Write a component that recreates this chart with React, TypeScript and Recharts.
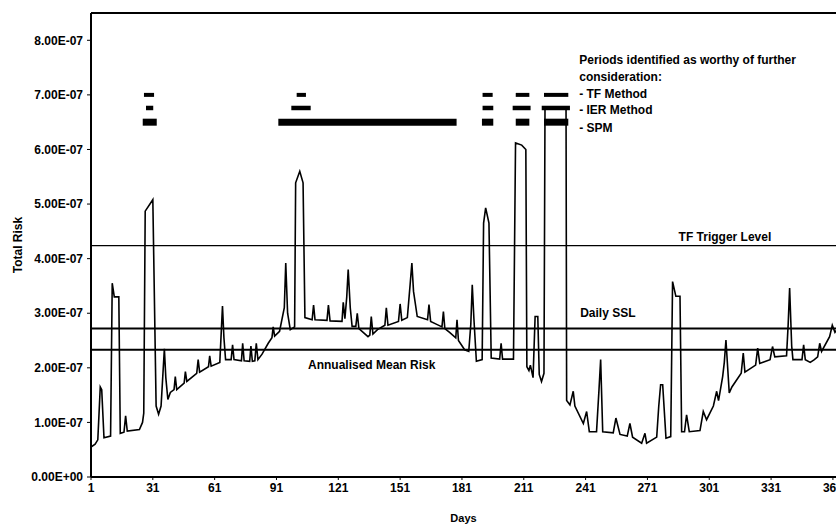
import React from 'react';
import { LineChart, Line, XAxis, YAxis, ReferenceLine, ReferenceDot } from 'recharts';

// Day of year and total risk (in units of 1E-07)
const days = [
  1, 3, 4.3, 5.5, 6.2, 7.3, 10.5, 11.3, 12.3, 14.5, 15.2, 17, 17.8, 18.6, 24.5, 26, 26.6, 27.3, 31, 32.6,
  33.8, 35, 36.6, 37.3, 38.3, 39.5, 41.3, 41.9, 42.6, 46.2, 46.8, 47.5, 52.3, 53, 53.7, 58, 58.6, 59.3, 63.5, 64.8,
  65.5, 66.3, 69, 69.7, 70.4, 74, 74.6, 75.3, 78, 78.6, 79.3, 80.5, 81.2, 82, 84, 87, 88.8, 89.4, 90.1, 92.5,
  94.8, 95.5, 96.4, 97.7, 99.8, 100.3, 102.3, 103.9, 104.8, 108.3, 109, 109.7, 115.5, 116.2, 117, 122.8, 123.4, 124.2, 125.1, 125.8,
  126.8, 127.7, 129.5, 130.2, 131, 135.4, 136.3, 137, 137.8, 140, 143.6, 144.3, 145.1, 150.2, 151, 151.8, 154.5, 155.8, 156.7, 157.5,
  159.3, 164.3, 165, 165.8, 168.5, 171.3, 172, 172.7, 175, 178, 178.6, 179.3, 182.3, 184.3, 185.3, 186, 186.8, 188, 190.8, 191.5,
  192.5, 194.1, 195.2, 199.3, 200, 200.7, 206, 207, 210, 212, 212.5, 213.5, 214.2, 215.5, 216.5, 217.8, 218.5, 219.6, 220.8, 221.3,
  231.5, 231.8, 233.4, 235, 235.8, 239.9, 241.5, 242.8, 246.3, 247.5, 248.3, 249.3, 254.4, 255.7, 257.7, 261.2, 262.5, 263.8, 268.2, 269.8,
  270.6, 275.5, 276.5, 277.4, 278.4, 280, 282.3, 283.2, 284.8, 286.8, 287.6, 289, 290, 291.3, 296.5, 298.1, 299.7, 303, 304.6, 305.5,
  307.5, 308.3, 309.1, 310.7, 312, 316.5, 317.5, 318.3, 323.5, 324.5, 325.5, 330.5, 331.7, 332.8, 338.5, 339.3, 340, 341, 341.6, 346,
  346.8, 347.6, 350, 352, 353.6, 354.6, 355.5, 359.4, 360.7, 362, 365,
];
const riskE7 = [
  0.55, 0.6, 0.68, 1.65, 1.6, 0.72, 0.75, 3.55, 3.3, 3.3, 0.8, 0.82, 1.12, 0.84, 0.87, 1.0, 1.17, 4.87, 5.08, 1.3,
  1.15, 1.3, 2.35, 1.82, 1.42, 1.55, 1.6, 1.84, 1.6, 1.72, 1.93, 1.75, 1.9, 2.15, 1.92, 2.02, 2.22, 2.03, 2.1, 3.13,
  2.55, 2.15, 2.15, 2.42, 2.15, 2.13, 2.45, 2.13, 2.12, 2.4, 2.12, 2.13, 2.45, 2.15, 2.25, 2.45, 2.55, 2.75, 2.58, 2.67,
  3.1, 3.92, 3.0, 2.7, 2.75, 5.39, 5.6, 5.39, 2.92, 2.88, 3.15, 2.88, 2.87, 3.15, 2.86, 2.85, 3.2, 2.9, 3.3, 3.8,
  3.1, 2.76, 2.76, 3.0, 2.72, 2.57, 2.6, 2.94, 2.62, 2.7, 2.78, 3.1, 2.78, 2.85, 3.17, 2.87, 2.92, 3.5, 3.92, 3.4,
  2.94, 2.88, 3.16, 2.85, 2.8, 2.75, 3.03, 2.72, 2.65, 2.55, 2.88, 2.5, 2.33, 2.3, 2.8, 3.52, 2.9, 2.12, 2.15, 4.65,
  4.93, 4.65, 2.18, 2.16, 2.45, 2.16, 2.16, 6.12, 6.08, 6.0, 2.02, 1.95, 2.05, 1.82, 2.94, 2.94, 1.88, 1.75, 1.9, 6.78,
  6.78, 1.4, 1.32, 1.57, 1.3, 0.98, 1.2, 0.83, 0.83, 1.6, 2.15, 0.83, 0.81, 1.08, 0.78, 0.75, 0.98, 0.73, 0.62, 0.8,
  0.62, 0.73, 1.3, 1.69, 1.69, 0.71, 0.74, 3.58, 3.31, 3.31, 0.83, 0.83, 1.14, 0.83, 0.85, 1.2, 1.05, 1.3, 1.57, 1.4,
  1.84, 2.1, 2.51, 1.54, 1.65, 1.9, 2.27, 1.92, 2.05, 2.36, 2.08, 2.15, 2.39, 2.2, 2.22, 2.8, 3.46, 2.4, 2.15, 2.15,
  2.42, 2.15, 2.1, 2.15, 2.2, 2.45, 2.3, 2.57, 2.78, 2.65, 2.8,
];

const xTicks = [1, 31, 61, 91, 121, 151, 181, 211, 241, 271, 301, 331, 361];
const yTicks = [0, 1, 2, 3, 4, 5, 6, 7, 8];

const tfTrigger = 4.24;
const dailySSL = 2.72;
const annualMean = 2.33;

const tfLevel = 7.0;
const ierLevel = 6.76;
const spmLevel = 6.5;
const tfPeriods = [[26.7, 31.6], [100.8, 105.3], [191, 195.9], [207.1, 213.7], [220.8, 232.6]];
const ierPeriods = [[27.7, 31.2], [98.2, 107.6], [191, 196.2], [205.6, 214.3], [219.7, 233.4]];
const spmPeriods = [[26.1, 32.9], [91.9, 178.4], [190.7, 196.2], [207.1, 213.7], [220.8, 232.6]];

const legendLines = [
  'Periods identified as worthy of further',
  'consideration:',
  '- TF Method',
  '- IER Method',
  '- SPM',
];
const legendLevels = [7.64, 7.34, 7.02, 6.72, 6.4];
const legendDay = 237.9;

const FONT = '"Liberation Sans", Arial, sans-serif';

const data = days.map((d, i) => ({ day: d, risk: riskE7[i] }));

const fmtY = (v: number) => (v === 0 ? '0.00E+00' : `${v.toFixed(2)}E-07`);

const textStyle = { fontFamily: FONT, fontSize: 12, fontWeight: 700, fill: '#000' };

export default function App() {
  return (
    <div style={{ position: 'absolute', left: 0, top: 0, background: '#fff', width: 836, height: 527 }}>
      <LineChart width={836} height={527} data={data} margin={{ top: 13, right: 0, bottom: 0, left: 0 }}>
        <XAxis
          dataKey="day"
          type="number"
          domain={[1, 362.5]}
          allowDataOverflow
          ticks={xTicks}
          interval={0}
          height={50}
          tickSize={3}
          tickMargin={3}
          axisLine={{ stroke: '#000', strokeWidth: 2 }}
          tickLine={{ stroke: '#000' }}
          tick={textStyle}
          label={{ value: 'Days', position: 'insideBottom', offset: 5, style: { ...textStyle, fontSize: 11 } }}
        />
        <YAxis
          type="number"
          domain={[0, 8.5]}
          ticks={yTicks}
          interval={0}
          width={91}
          tickSize={4}
          tickMargin={4}
          tickFormatter={fmtY}
          axisLine={{ stroke: '#000', strokeWidth: 2 }}
          tickLine={{ stroke: '#000' }}
          tick={textStyle}
          label={{ value: 'Total Risk', angle: -90, position: 'insideLeft', offset: 18, style: { ...textStyle, textAnchor: 'middle' } }}
        />
        <ReferenceLine y={8.5} stroke="#000" strokeWidth={2} />
        <ReferenceLine y={tfTrigger} stroke="#000" strokeWidth={1.2} />
        <ReferenceLine y={dailySSL} stroke="#000" strokeWidth={2} />
        <ReferenceLine y={annualMean} stroke="#000" strokeWidth={2} />
        <Line
          type="linear"
          dataKey="risk"
          stroke="#000"
          strokeWidth={1.6}
          dot={false}
          isAnimationActive={false}
        />
        {tfPeriods.map(([a, b], i) => (
          <ReferenceLine key={`tf${i}`} segment={[{ x: a, y: tfLevel }, { x: b, y: tfLevel }]} stroke="#000" strokeWidth={4} />
        ))}
        {ierPeriods.map(([a, b], i) => (
          <ReferenceLine key={`ier${i}`} segment={[{ x: a, y: ierLevel }, { x: b, y: ierLevel }]} stroke="#000" strokeWidth={4.5} />
        ))}
        {spmPeriods.map(([a, b], i) => (
          <ReferenceLine key={`spm${i}`} segment={[{ x: a, y: spmLevel }, { x: b, y: spmLevel }]} stroke="#000" strokeWidth={7} />
        ))}
        <ReferenceDot x={308.6} y={4.4} r={0} stroke="none" label={{ value: 'TF Trigger Level', position: 'center', style: textStyle }} />
        <ReferenceDot x={251.8} y={3.01} r={0} stroke="none" label={{ value: 'Daily SSL', position: 'center', style: textStyle }} />
        <ReferenceDot x={137.2} y={2.05} r={0} stroke="none" label={{ value: 'Annualised Mean Risk', position: 'center', style: textStyle }} />
        {legendLines.map((t, i) => (
          <ReferenceDot
            key={`lg${i}`}
            x={legendDay}
            y={legendLevels[i]}
            r={0}
            stroke="none"
            label={{ value: t, position: 'right', offset: 0, style: textStyle }}
          />
        ))}
      </LineChart>
    </div>
  );
}
